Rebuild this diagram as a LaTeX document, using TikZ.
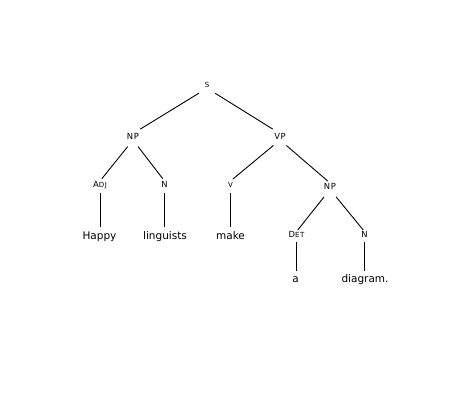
\documentclass[tikz,border=0pt]{standalone}
\usepackage{fontspec}
\setmainfont{DejaVu Sans}
\newfontfamily\catfont[LetterSpace=8]{DejaVu Sans}
\newcommand\catbig{\fontsize{8.4}{9}\selectfont}
\newcommand\catsmall{\fontsize{7}{8}\selectfont}
\begin{document}
\begin{tikzpicture}[x=1pt,y=-1pt,
  cat/.style={inner sep=0pt, text height=6pt, text depth=0pt, anchor=base, font=\catfont\catbig},
  word/.style={inner sep=0pt, text height=8pt, text depth=2.5pt, anchor=base, font=\fontsize{10.5}{12}\selectfont},
  edge/.style={draw=black, line width=0.9pt}]
\useasboundingbox (0,0) rectangle (471,403);
\fill[white] (0,0) rectangle (471,403);
% categories
\node[cat] (S)   at (207,88)  {\catsmall S};
\node[cat] (NPa) at (133,139.8) {NP};
\node[cat] (VP)  at (280,139.8) {VP};
\node[cat] (Adj) at (100,187.2)   {A\catsmall DJ};
\node[cat] (Na)  at (164.5,187.2) {N};
\node[cat] (V)   at (230.5,187.2) {\catsmall V};
\node[cat] (NPb) at (330,189.2)   {NP};
\node[cat] (Det) at (296.5,237.8) {D\catsmall ET};
\node[cat] (Nb)  at (364.5,237.8) {N};
% words
\node[word] (happy) at (99.5,239.5) {Happy};
\node[word] (ling)  at (165,239.5)  {linguists};
\node[word] (make)  at (230.5,239.5) {make};
\node[word] (a)     at (295.5,282.7) {a};
\node[word] (diag)  at (365,282.7)  {diagram.};
% edges
\draw[edge, shorten <=9.5pt, shorten >=8.5pt] (S.south) -- (NPa.north);
\draw[edge, shorten <=9.5pt, shorten >=8.5pt] (S.south) -- (VP.north);
\draw[edge, shorten <=8.5pt, shorten >=3pt] (NPa.south) -- (Adj.north);
\draw[edge, shorten <=8.5pt, shorten >=3pt] (NPa.south) -- (Na.north);
\draw[edge, shorten <=8.5pt, shorten >=3pt] (VP.south) -- (V.north);
\draw[edge, shorten <=8.5pt, shorten >=3pt] (VP.south) -- (NPb.north);
\draw[edge, shorten <=9.5pt, shorten >=2pt] (NPb.south) -- (Det.north);
\draw[edge, shorten <=9.5pt, shorten >=2pt] (NPb.south) -- (Nb.north);
\draw[edge, shorten <=5.5pt, shorten >=4.5pt] (Adj.south) -- (Adj.south |- happy.north);
\draw[edge, shorten <=5.5pt, shorten >=4.5pt] (Na.south) -- (Na.south |- ling.north);
\draw[edge, shorten <=5.5pt, shorten >=4.5pt] (V.south) -- (V.south |- make.north);
\draw[edge, shorten <=4pt, shorten >=3.7pt] (Det.south) -- (Det.south |- a.north);
\draw[edge, shorten <=4pt, shorten >=3.7pt] (Nb.south) -- (Nb.south |- diag.north);
\end{tikzpicture}
\end{document}
